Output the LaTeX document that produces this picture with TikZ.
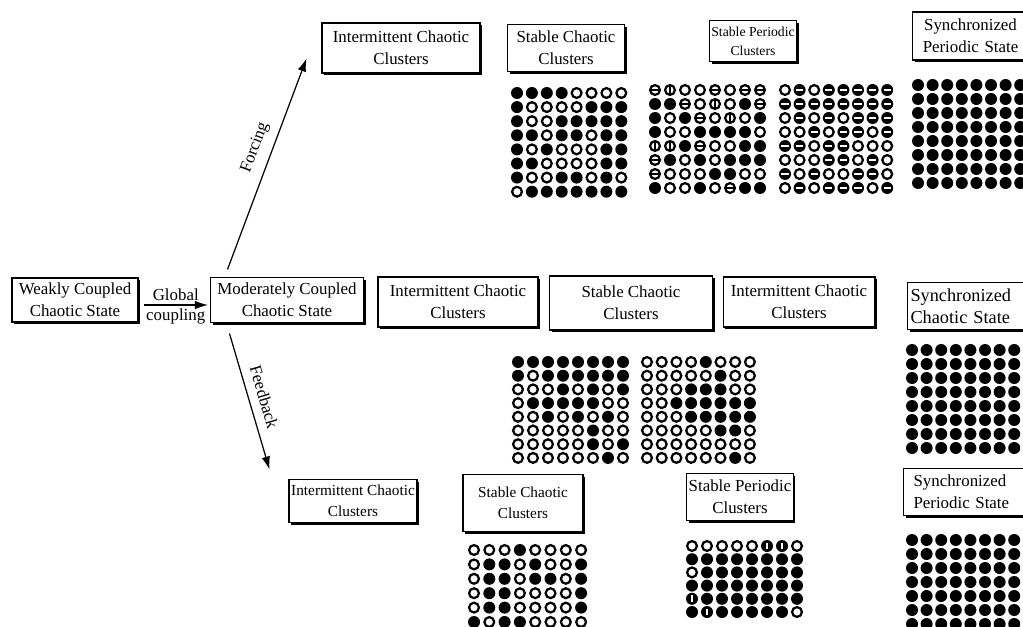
\documentclass[tikz,border=0pt]{standalone}
\usepackage{fontspec}
\setmainfont{Liberation Serif}
\usetikzlibrary{arrows.meta,shadows}

% one 8-wide lattice of oscillators: x0, y0, dx, dy, rows
\newcommand\dotLattice[5]{%
  \foreach \cells [count=\r] in {#5} {
    \foreach \cell [count=\c] in \cells {
      \pic at ({#1+(\c-1)*#3},{#2-(\r-1)*#4}) {dot\cell};
    }
  }}

\begin{document}
\begin{tikzpicture}[x=.02cm,y=.02cm,
      state/.style={draw, line width=.6pt, fill=white, align=center,
        inner sep=1pt, font=\fontsize{9.6}{12.5}\selectfont,
        drop shadow={shadow xshift=.045cm, shadow yshift=-.045cm,
          fill=black, opacity=1}},
      flow/.style={line width=.7pt, -{Latex[length=.26cm,width=.17cm]}},
      tag/.style={font=\fontsize{9.6}{11}\selectfont, inner sep=1pt},
      dotB/.pic={\fill (0,0) circle (6);},
      dotO/.pic={\draw[line width=.045cm, fill=white] (0,0) circle (4.9);},
      dotH/.pic={\draw[line width=.045cm, fill=white] (0,0) circle (4.9);
        \fill (-4.9,-1.3) rectangle (4.9,1.3);},
      dotV/.pic={\draw[line width=.045cm, fill=white] (0,0) circle (4.9);
        \fill (-1.3,-4.9) rectangle (1.3,4.9);},
      dotW/.pic={\fill (0,0) circle (6);
        \fill[white] (-3.6,-.8) rectangle (3.6,.8);},
      dotX/.pic={\fill (0,0) circle (6);
        \fill[white] (-.8,-3.4) rectangle (.8,3.4);}]
      \useasboundingbox (0,0) rectangle (1023,626);
      \fill[white] (0,0) rectangle (1023,626);
      \clip (0,0) rectangle (1023,626);

      % middle row
      \node[state, minimum width=2.52cm, minimum height=.88cm]
        (weak) at (75,326) {Weakly Coupled\\Chaotic State};
      \node[state, minimum width=3.06cm, minimum height=.90cm]
        (moderate) at (287,326) {Moderately Coupled\\Chaotic State};
      \node[state, minimum width=3.20cm, minimum height=1.00cm]
        (midIcc) at (458,324) {Intermittent Chaotic\\Clusters};
      \node[state, minimum width=3.26cm, minimum height=1.08cm]
        (midScc) at (631,323) {Stable Chaotic\\Clusters};
      \node[state, minimum width=3.04cm, minimum height=1.00cm]
        (midIccTwo) at (799,324) {Intermittent Chaotic\\Clusters};
      \node[state, anchor=west, text width=2.3cm, align=left,
        inner xsep=.06cm, minimum height=.94cm, font=\fontsize{10.4}{12.5}\selectfont]
        (midSync) at (907,320) {Synchronized\\Chaotic State};

      % forcing branch
      \node[state, minimum width=3.16cm, minimum height=1.00cm]
        (topIcc) at (401,578) {Intermittent Chaotic\\Clusters};
      \node[state, minimum width=2.34cm, minimum height=.94cm]
        (topScc) at (566,578) {Stable Chaotic\\Clusters};
      \node[state, minimum width=1.74cm, minimum height=.82cm,
        font=\fontsize{7.8}{11}\selectfont]
        (topSpc) at (753,585) {Stable Periodic\\Clusters};
      \node[state, anchor=west, text width=2.0cm, inner xsep=.16cm,
        minimum height=.96cm]
        (topSync) at (912,590) {Synchronized\\Periodic State};

      % feedback branch
      \node[state, minimum width=2.56cm, minimum height=.86cm,
        font=\fontsize{8.7}{12}\selectfont]
        (botIcc) at (353,125) {Intermittent Chaotic\\Clusters};
      \node[state, minimum width=2.40cm, minimum height=1.14cm,
        font=\fontsize{8.7}{12}\selectfont]
        (botScc) at (523,123) {Stable Chaotic\\Clusters};
      \node[state, minimum width=2.12cm, minimum height=.94cm]
        (botSpc) at (740,129) {Stable Periodic\\Clusters};
      \node[state, anchor=west, text width=2.3cm, align=left,
        inner xsep=.2cm, minimum height=.94cm]
        (botSync) at (903,134) {Synchronized\\Periodic State};

      \draw[flow] ([xshift=.1cm,yshift=-.1cm]weak.east)
        -- node[tag, above=1pt] {Global} node[tag, below=1pt] {coupling}
        ([xshift=-.04cm,yshift=-.1cm]moderate.west);
      \draw[flow] ([xshift=.35cm,yshift=.15cm]moderate.north west)
        -- node[tag, pos=.55, sloped, above=4pt] {Forcing}
        ([xshift=-.30cm,yshift=.30cm]topIcc.south west);
      \draw[flow] ([xshift=.39cm,yshift=-.21cm]moderate.south west)
        -- node[tag, midway, sloped, above=4pt] {Feedback}
        ([xshift=-.38cm,yshift=.19cm]botIcc.north west);

      % oscillator lattices, top row
      \dotLattice{517}{533}{14.9}{14.1}{
        {B,B,B,B,O,O,O,O},{B,O,O,O,O,B,B,B},{B,O,O,B,B,B,B,B},
        {B,B,O,B,B,O,B,B},{B,O,B,O,O,O,B,B},{B,B,O,O,O,O,B,B},
        {B,O,O,B,B,O,B,O},{O,B,B,B,B,B,B,B}}
      \dotLattice{655}{536}{15}{14}{
        {H,V,O,O,H,O,H,H},{B,B,H,O,V,O,B,H},{B,O,B,H,O,V,O,B},
        {B,O,O,B,B,B,B,O},{V,V,B,H,O,O,B,B},{H,B,O,B,O,B,B,B},
        {H,O,O,O,B,B,O,O},{B,O,O,B,O,H,B,B}}
      \dotLattice{785}{536}{14.6}{14}{
        {O,W,O,W,W,W,W,W},{W,W,W,W,W,W,W,W},{O,W,O,W,O,W,W,W},
        {O,O,W,O,W,W,O,W},{W,W,O,W,W,O,O,O},{O,O,O,W,W,O,W,O},
        {W,O,W,O,O,W,W,O},{O,W,O,W,W,W,O,W}}
      \dotLattice{918}{541}{14.6}{14}{
        {B,B,B,B,B,B,B,B},{B,B,B,B,B,B,B,B},{B,B,B,B,B,B,B,B},
        {B,B,B,B,B,B,B,B},{B,B,B,B,B,B,B,B},{B,B,B,B,B,B,B,B},
        {B,B,B,B,B,B,B,B},{B,B,B,B,B,B,B,B}}

      % middle row
      \dotLattice{518}{264}{15}{13.7}{
        {B,B,B,B,B,B,B,B},{B,O,B,B,B,B,B,B},{O,O,O,B,O,B,O,B},
        {O,B,B,B,B,B,O,O},{O,O,B,O,B,O,B,O},{O,O,O,O,O,B,O,O},
        {O,O,O,O,O,B,O,B},{O,O,O,O,O,O,B,O}}
      \dotLattice{647}{264}{14.7}{13.7}{
        {O,O,O,O,B,O,O,O},{O,O,O,O,O,B,O,O},{O,O,O,B,B,B,O,O},
        {O,O,B,B,B,B,B,B},{O,O,O,B,B,B,B,B},{O,O,O,O,O,B,B,O},
        {O,O,O,O,O,O,O,O},{O,O,O,O,O,O,B,O}}
      \dotLattice{912}{276}{14.6}{14}{
        {B,B,B,B,B,B,B,B},{B,B,B,B,B,B,B,B},{B,B,B,B,B,B,B,B},
        {B,B,B,B,B,B,B,B},{B,B,B,B,B,B,B,B},{B,B,B,B,B,B,B,B},
        {B,B,B,B,B,B,B,B},{B,B,B,B,B,B,B,B}}

      % bottom row
      \dotLattice{474}{76}{15.3}{14.4}{
        {O,O,O,B,O,O,O,O},{O,B,B,O,B,O,O,B},{O,B,B,O,B,B,O,B},
        {O,B,B,O,O,O,O,B},{O,B,B,O,O,O,O,B},{B,O,B,B,O,O,O,O}}
      \dotLattice{692}{80}{15}{13.2}{
        {O,O,O,O,O,X,X,O},{B,B,B,B,B,B,B,B},{O,B,B,B,B,B,B,B},
        {B,B,B,B,B,B,B,B},{X,B,B,B,B,B,B,B},{B,X,B,B,B,B,B,O}}
      \dotLattice{912}{86}{14.6}{14}{
        {B,B,B,B,B,B,B,B},{B,B,B,B,B,B,B,B},{B,B,B,B,B,B,B,B},
        {B,B,B,B,B,B,B,B},{B,B,B,B,B,B,B,B},{B,B,B,B,B,B,B,B},
        {B,B,B,B,B,B,B,B}}
    \end{tikzpicture}
\end{document}
